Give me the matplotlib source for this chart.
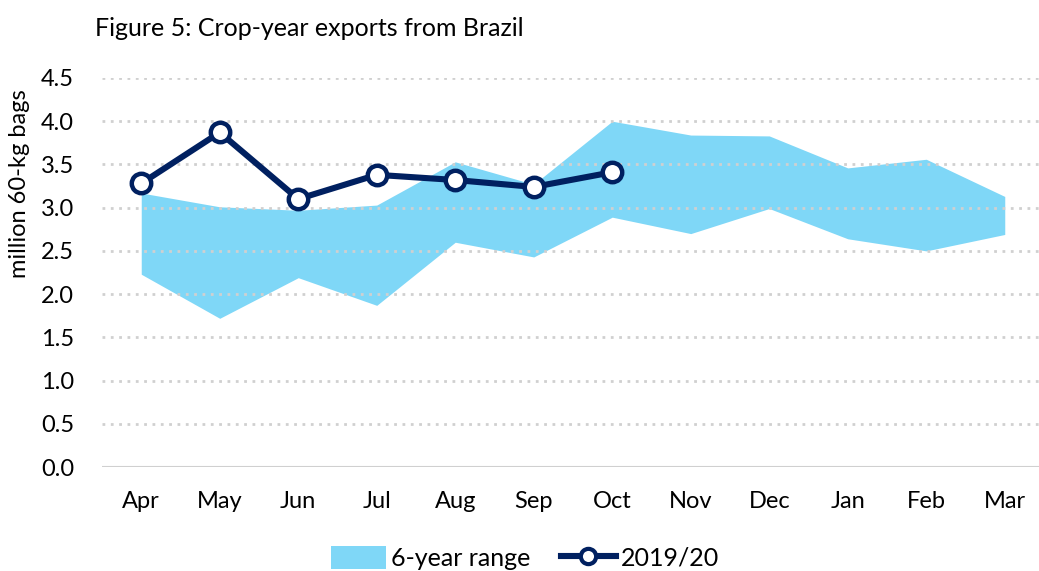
import matplotlib.pyplot as plt
from matplotlib.patches import Patch
from matplotlib.lines import Line2D

plt.rcParams["font.family"] = ["Lato", "DejaVu Sans"]

months = ["Apr", "May", "Jun", "Jul", "Aug", "Sep", "Oct", "Nov", "Dec", "Jan", "Feb", "Mar"]
range_low = [2.23, 1.72, 2.19, 1.87, 2.60, 2.43, 2.89, 2.70, 2.99, 2.64, 2.50, 2.69]
range_high = [3.17, 3.01, 2.97, 3.03, 3.53, 3.27, 4.00, 3.84, 3.83, 3.46, 3.56, 3.13]
exports_1920 = [3.28, 3.87, 3.10, 3.38, 3.32, 3.24, 3.41]

BAND = "#7fd7f7"
NAVY = "#002060"
GRID = "#d0d0d0"

fig = plt.figure(figsize=(10.39, 5.71), dpi=100)
ax = fig.add_axes([102 / 1039, 104 / 571, 942 / 1039, 389 / 571])

x = list(range(len(months)))
ax.fill_between(x, range_low, range_high, color=BAND, linewidth=0, zorder=2)
ax.plot(x[:len(exports_1920)], exports_1920, color=NAVY, linewidth=4.4,
        marker="o", markersize=14, markerfacecolor="white",
        markeredgecolor=NAVY, markeredgewidth=3.2, zorder=4)

ax.set_xlim(-0.5, 11.5)
ax.set_ylim(0, 4.5)
ax.set_yticks([i * 0.5 for i in range(10)])
ax.set_yticklabels([f"{i * 0.5:.1f}" for i in range(10)])
ax.set_xticks(x)
ax.set_xticklabels(months)
ax.tick_params(axis="both", length=0, labelsize=17, colors="black")
ax.tick_params(axis="x", pad=17)
ax.tick_params(axis="y", pad=20)

for yv in [i * 0.5 for i in range(1, 10)]:
    ax.axhline(yv, color=GRID, linewidth=2, linestyle=(0, (1, 2)), zorder=3)
ax.axhline(0, color=GRID, linewidth=1.5, zorder=3)

for s in ax.spines.values():
    s.set_visible(False)

fig.text(95 / 1039, 1 - 28 / 571, "Figure 5: Crop-year exports from Brazil",
         fontsize=18, va="center", ha="left")
fig.text(20 / 1039, 1 - 184 / 571, "million 60-kg bags", fontsize=17,
         rotation=90, va="center", ha="center")

handles = [
    Patch(facecolor=BAND, edgecolor="none"),
    Line2D([0], [0], color=NAVY, linewidth=4.4, marker="o", markersize=11,
           markerfacecolor="white", markeredgecolor=NAVY, markeredgewidth=3),
]
fig.legend(handles, ["6-year range", "2019/20"], loc="center",
           bbox_to_anchor=(525 / 1039, 1 - 558 / 571), ncol=2, frameon=False,
           fontsize=18, handlelength=2.2, handleheight=1.0, handletextpad=0.2,
           columnspacing=1.2)

fig.savefig("out.png", dpi=100)
